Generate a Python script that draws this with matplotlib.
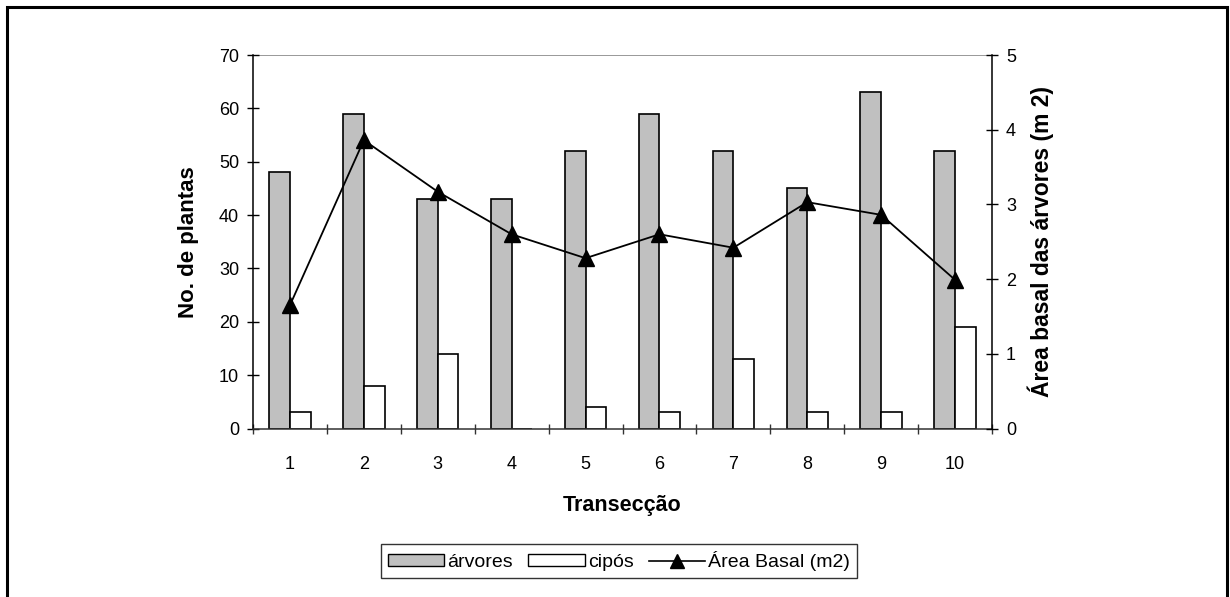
import numpy as np
import matplotlib
matplotlib.use("Agg")
import matplotlib.pyplot as plt
from matplotlib.lines import Line2D
from matplotlib.patches import Patch, Rectangle

plt.rcParams['font.family'] = ['Liberation Sans', 'DejaVu Sans']

transeccao = ['1', '2', '3', '4', '5', '6', '7', '8', '9', '10']
arvores = [48, 59, 43, 43, 52, 59, 52, 45, 63, 52]
cipos = [3, 8, 14, 0, 4, 3, 13, 3, 3, 19]
area_basal = [1.65, 3.86, 3.17, 2.60, 2.28, 2.60, 2.42, 3.03, 2.86, 1.99]

fig = plt.figure(figsize=(12.3, 5.97), dpi=100)
ax = fig.add_axes([253 / 1230, 1 - 428.5 / 597, 739 / 1230, 373.5 / 597])

x = np.arange(len(transeccao))
w = 0.28
ax.bar(x - w / 2, arvores, width=w, color='#c0c0c0', edgecolor='black', linewidth=1.2, zorder=2)
ax.bar(x + w / 2, cipos, width=w, color='white', edgecolor='black', linewidth=1.2, zorder=2)

ax.set_xlim(-0.5, len(x) - 0.5)
ax.set_ylim(0, 70)
ax.set_yticks(range(0, 71, 10))
ax.set_xticks(x)
ax.set_xticklabels(transeccao)
ax.set_xticks(np.arange(-0.5, len(x), 1.0), minor=True)
ax.tick_params(axis='x', which='major', length=0, pad=20, labelsize=13)
ax.tick_params(axis='x', which='minor', length=7, direction='inout', color='#333333', width=1)
ax.tick_params(axis='y', length=8, direction='inout', width=1, labelsize=13, pad=6)
ax.axhline(70, color='#888888', linewidth=1.2, zorder=1)
ax.spines['top'].set_visible(False)
ax.spines['left'].set_linewidth(1.1)
ax.spines['bottom'].set_color('#333333')
ax.spines['bottom'].set_linewidth(1.1)
ax.spines['right'].set_visible(False)

ax.set_ylabel('No. de plantas', fontsize=16, fontweight='bold', labelpad=14)
ax.set_xlabel('Transecção', fontsize=15.5, fontweight='bold', labelpad=16)

ax2 = ax.twinx()
ax2.set_ylim(0, 5)
ax2.set_yticks(range(0, 6))
ax2.tick_params(axis='y', length=8, direction='inout', width=1, labelsize=13, pad=6)
for s in ['top', 'left', 'bottom']:
    ax2.spines[s].set_visible(False)
ax2.spines['right'].set_linewidth(1.1)
ax2.plot(x, area_basal, color='black', linewidth=1.3, marker='^', markersize=11, zorder=4)
ax2.set_ylabel('Área basal das árvores (m 2)', fontsize=16.5, fontweight='bold', labelpad=8)

handles = [
    Patch(facecolor='#c0c0c0', edgecolor='black', label='árvores'),
    Patch(facecolor='white', edgecolor='black', label='cipós'),
    Line2D([0], [0], color='black', marker='^', markersize=10, linewidth=1.2, label='Área Basal (m2)'),
]
leg = fig.legend(handles=handles, loc='center', bbox_to_anchor=(619 / 1230, 1 - 561 / 597),
                 ncol=3, frameon=True, fancybox=False, edgecolor='black', fontsize=14,
                 handlelength=2.9, handletextpad=0.15, columnspacing=0.8, borderpad=0.35,
                 handleheight=0.55, borderaxespad=0)
leg.get_frame().set_linewidth(1.0)

fig.patches.append(Rectangle((7 / 1230, -0.05), 1220 / 1230, 1.05 - 7 / 597,
                             transform=fig.transFigure, fill=False, edgecolor='black',
                             linewidth=2.2))

fig.savefig('out.png', dpi=100)
